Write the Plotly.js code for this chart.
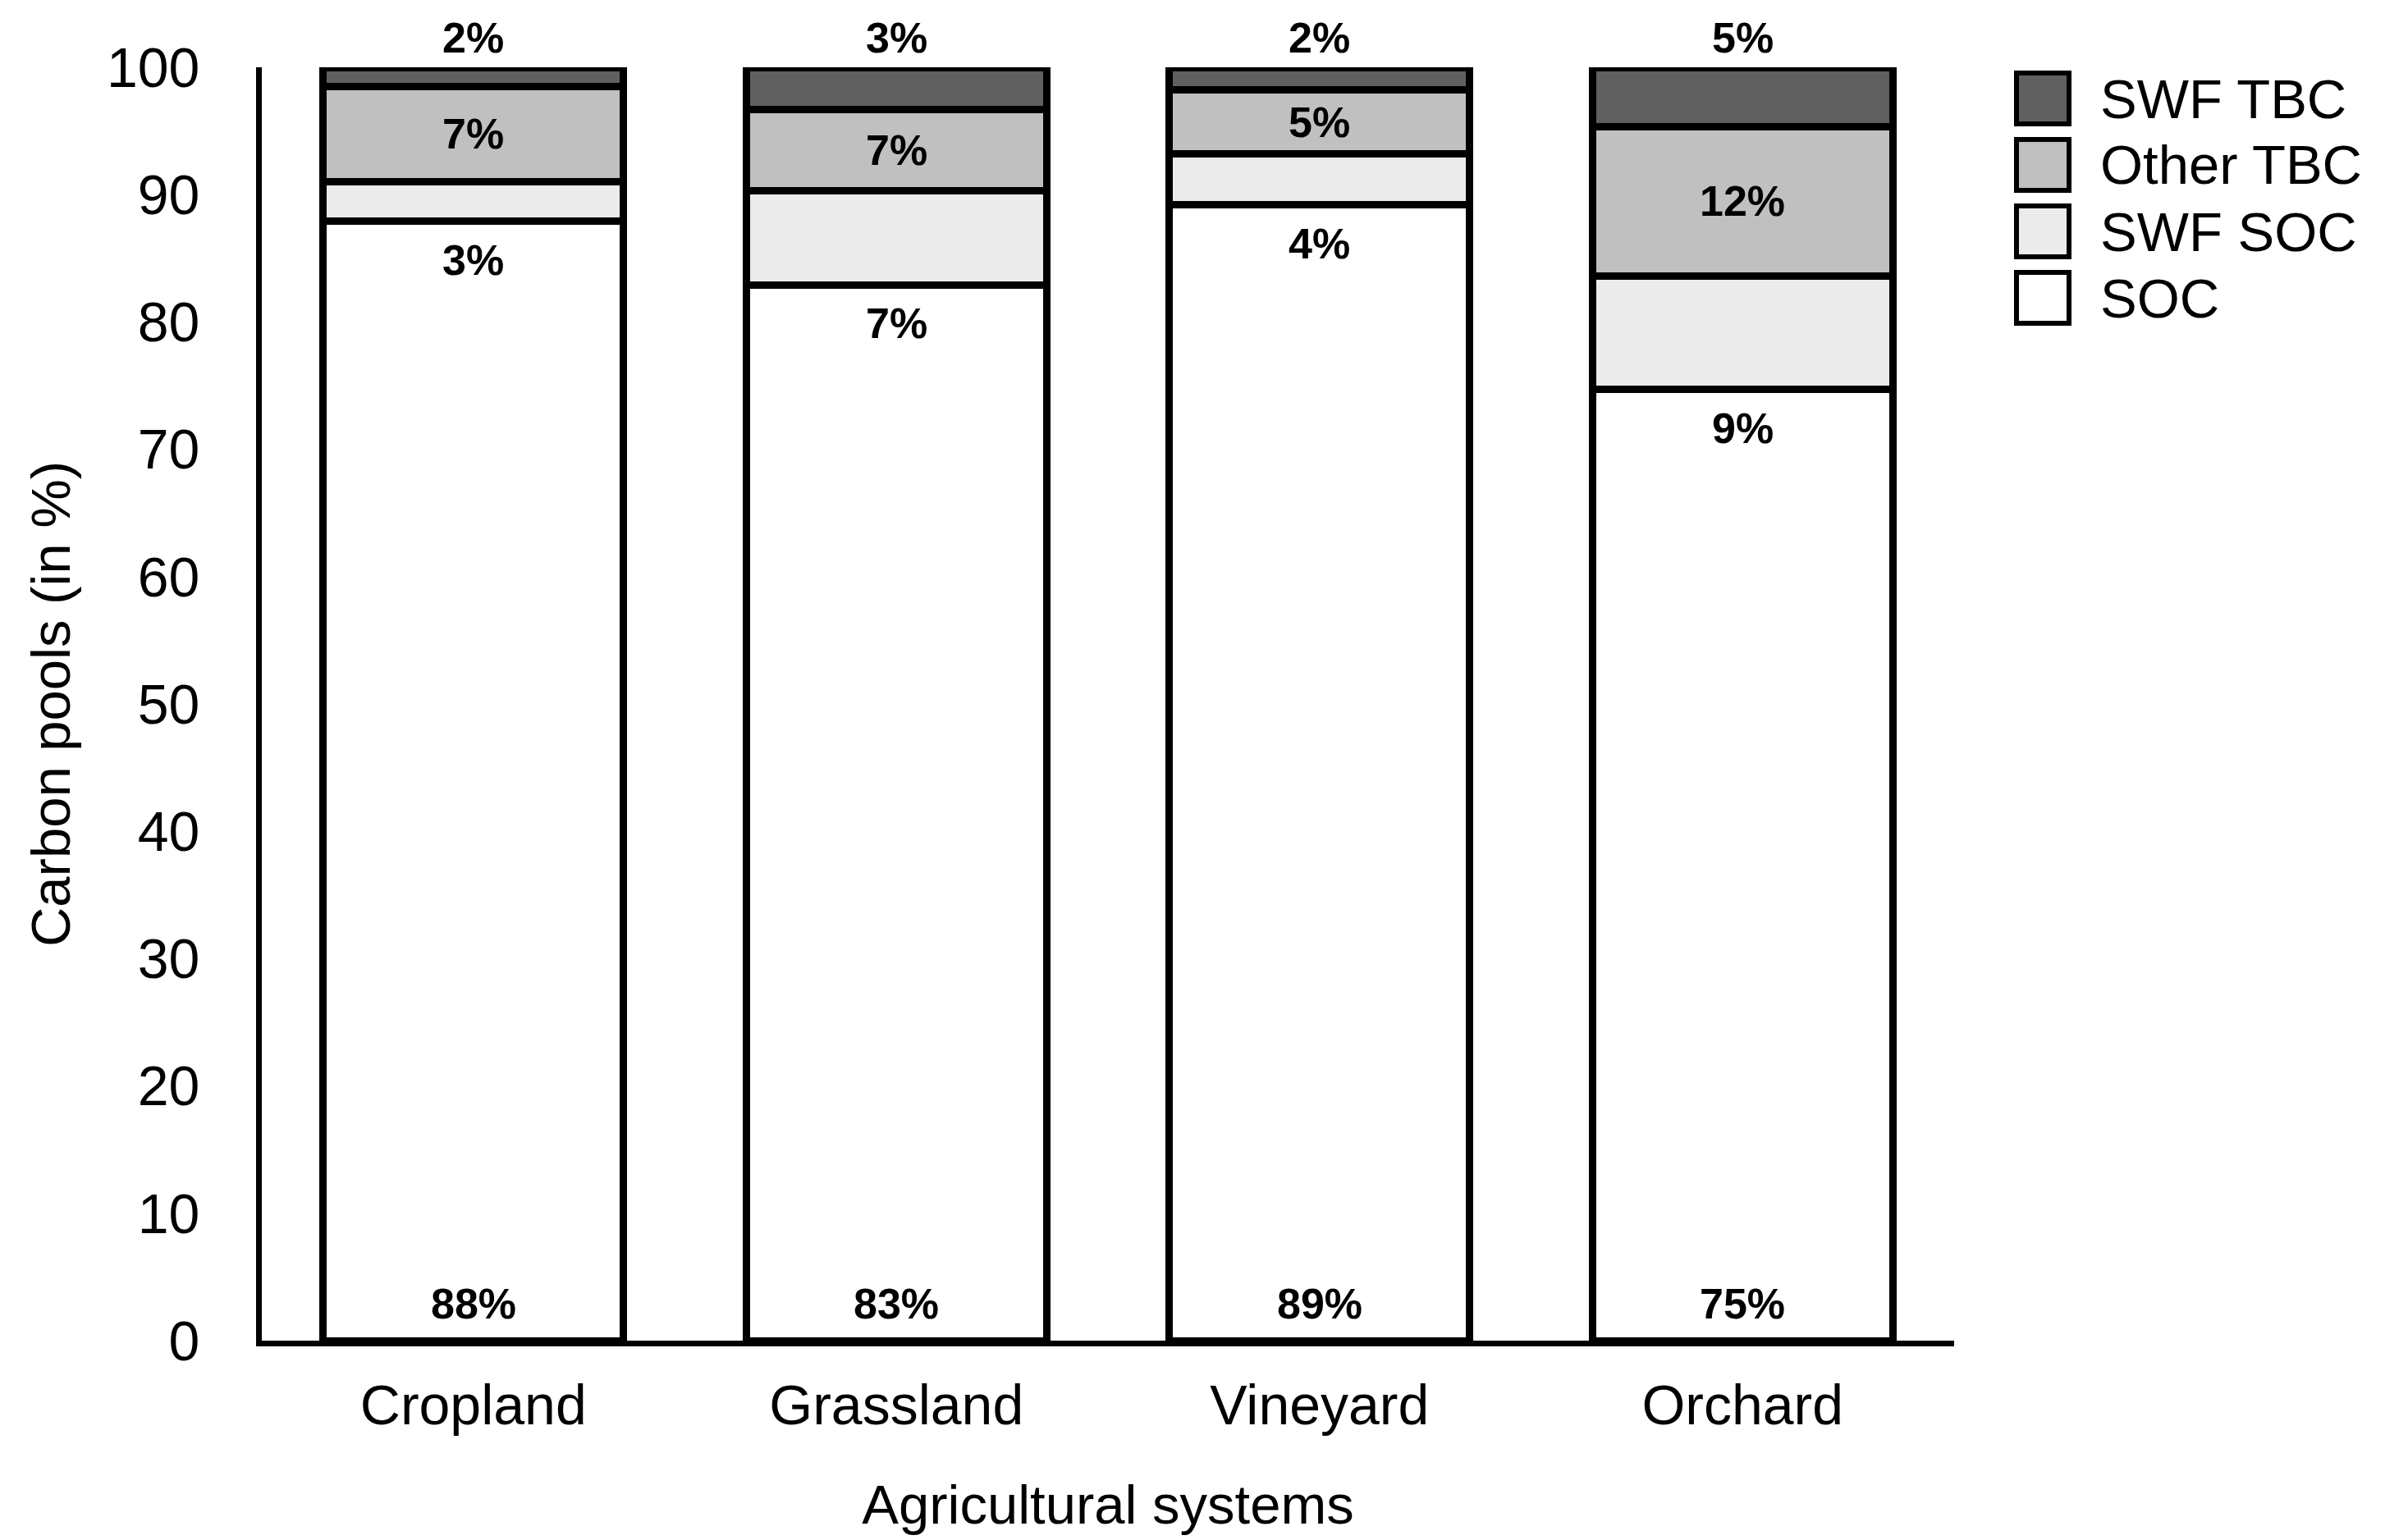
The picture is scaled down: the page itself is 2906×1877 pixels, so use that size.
<!DOCTYPE html>
<html>
<head>
<meta charset="utf-8">
<script src="https://cdn.plot.ly/plotly-3.0.1.min.js"></script>
<style>
  html, body { margin: 0; padding: 0; background: #ffffff; }
  #chart { width: 2906px; height: 1877px; }
</style>
</head>
<body>
<div id="chart"></div>
<script>
// ---- Data ----
const categories = ['Cropland', 'Grassland', 'Vineyard', 'Orchard'];

// segment sizes (in % of total carbon), bottom to top
const soc      = [87.9, 82.9, 89.2, 74.7];
const swfSoc   = [3.1, 7.4, 4.0, 8.9];
const otherTbc = [7.5, 6.4, 5.0, 11.7];
const swfTbc   = [1.5, 3.3, 1.8, 4.7];

// printed labels
const socLabels      = ['88%', '83%', '89%', '75%'];
const swfSocLabels   = ['3%', '7%', '4%', '9%'];
const otherTbcLabels = ['7%', '7%', '5%', '12%'];
const swfTbcLabels   = ['2%', '3%', '2%', '5%'];

const seriesNames  = ['SOC', 'SWF SOC', 'Other TBC', 'SWF TBC'];
const seriesColors = ['#ffffff', '#ebebeb', '#c0c0c0', '#606060'];
const yTicks = [0, 10, 20, 30, 40, 50, 60, 70, 80, 90, 100];

// ---- Build chart ----
const FONT = '"Liberation Sans", Arial, Helvetica, sans-serif';
const seriesValues = [soc, swfSoc, otherTbc, swfTbc];

const traces = seriesValues.map((vals, i) => ({
  type: 'bar',
  name: seriesNames[i],
  x: categories,
  y: vals,
  marker: { color: seriesColors[i], line: { color: '#000000', width: 9 } },
  showlegend: false,
  hoverinfo: 'skip'
}));

const round1 = v => Math.round(v * 10) / 10;
const labelFont = { family: FONT, size: 52, color: '#000000', weight: 700 };
const annotations = [];
categories.forEach((c, i) => {
  const total = round1(soc[i] + swfSoc[i] + otherTbc[i] + swfTbc[i]);
  // SOC label at bar bottom
  annotations.push({ x: c, y: 0, xref: 'x', yref: 'y', text: '<b>' + socLabels[i] + '</b>',
    showarrow: false, yanchor: 'bottom', yshift: 14, font: labelFont });
  // SWF SOC label just below top of SOC segment
  annotations.push({ x: c, y: soc[i], xref: 'x', yref: 'y', text: '<b>' + swfSocLabels[i] + '</b>',
    showarrow: false, yanchor: 'top', yshift: -16, font: labelFont });
  // Other TBC label in middle of its segment
  annotations.push({ x: c, y: round1(soc[i] + swfSoc[i] + otherTbc[i] / 2), xref: 'x', yref: 'y',
    text: '<b>' + otherTbcLabels[i] + '</b>', showarrow: false, yanchor: 'middle', font: labelFont });
  // SWF TBC label above bar
  annotations.push({ x: c, y: total, xref: 'x', yref: 'y', text: '<b>' + swfTbcLabels[i] + '</b>',
    showarrow: false, yanchor: 'bottom', yshift: 5, font: labelFont });
});

// custom legend (large square swatches), top to bottom: SWF TBC, Other TBC, SWF SOC, SOC
const shapes = [];
const legendOrder = [3, 2, 1, 0];
const plotW = 2062, plotH = 1552;
legendOrder.forEach((si, row) => {
  const cy = 1 - (38 + row * 81) / plotH;      // centre of row in paper units
  const half = 31 / plotH;
  shapes.push({ type: 'rect', xref: 'paper', yref: 'paper',
    x0: 1 + 76 / plotW, x1: 1 + 140 / plotW, y0: cy - half, y1: cy + half,
    fillcolor: seriesColors[si], line: { color: '#000000', width: 6 } });
  annotations.push({ xref: 'paper', yref: 'paper', x: 1 + 176 / plotW, y: cy,
    xanchor: 'left', yanchor: 'middle', showarrow: false, text: seriesNames[si],
    font: { family: FONT, size: 67, color: '#000000' } });
});

const layout = {
  width: 2906, height: 1877,
  margin: { l: 319, r: 525, t: 82, b: 243 },
  paper_bgcolor: '#ffffff', plot_bgcolor: '#ffffff',
  barmode: 'stack',
  bargap: 0.29,
  font: { family: FONT, size: 67, color: '#000000' },
  xaxis: {
    type: 'category',
    range: [-0.5, 3.5],
    showline: true, linecolor: '#000000', linewidth: 7,
    ticks: '', showgrid: false, zeroline: false,
    ticklabelstandoff: 13,
    tickfont: { family: FONT, size: 68, color: '#000000' },
    title: { text: 'Agricultural systems', font: { family: FONT, size: 67, color: '#000000' }, standoff: 64 }
  },
  yaxis: {
    range: [0, 100],
    tickvals: yTicks,
    showline: true, linecolor: '#000000', linewidth: 7,
    ticks: '', showgrid: false, zeroline: false,
    ticklabelstandoff: 55,
    tickfont: { family: FONT, size: 68, color: '#000000' },
    title: { text: 'Carbon pools (in %)', font: { family: FONT, size: 67, color: '#000000' }, standoff: 25 }
  },
  annotations: annotations,
  shapes: shapes
};

Plotly.newPlot('chart', traces, layout, { displayModeBar: false, staticPlot: true });
</script>
</body>
</html>
